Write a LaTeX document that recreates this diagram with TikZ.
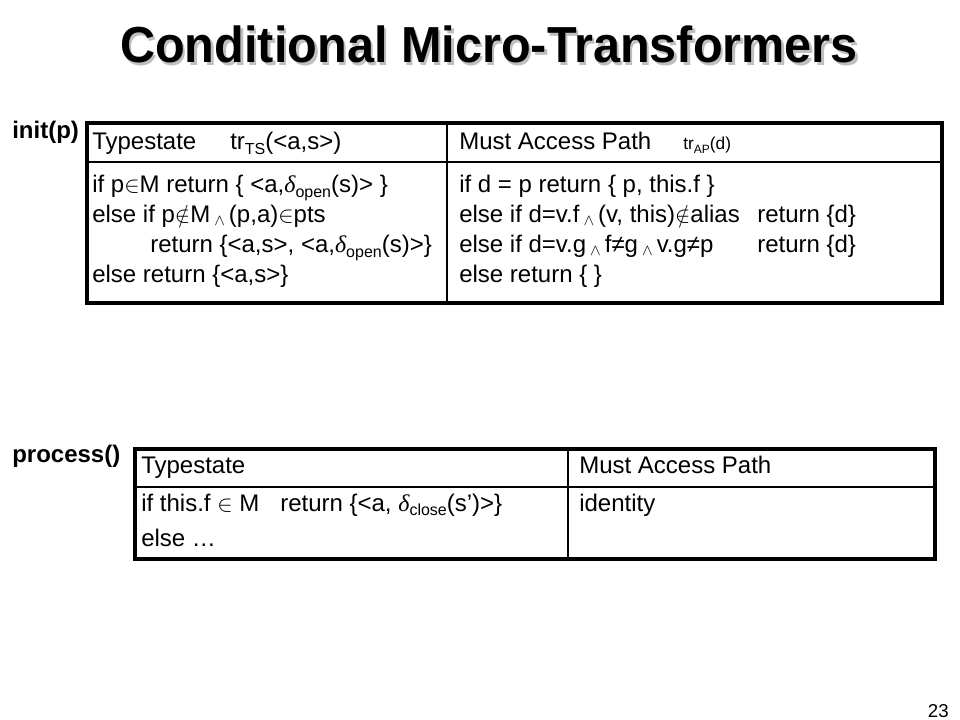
\documentclass[tikz,border=0pt]{standalone}
\usepackage{fontspec}
\setmainfont{Liberation Sans}
\newfontfamily\titlefont[FakeStretch=0.96]{Liberation Sans}
\newfontfamily\symfont{Liberation Serif}
\newcommand\dlt{{\symfont\itshape δ}}
\newcommand\lowtxt[1]{\raisebox{-0.35ex}{\fontsize{12}{12}\selectfont #1}}
\newcommand\mand{\,\raisebox{-0.2ex}{$\scriptstyle\wedge$}\,}

\begin{document}
\begin{tikzpicture}[x=0.75pt,y=-0.75pt,
    txt/.style={anchor=base west,inner sep=0pt,font=\fontsize{18}{21}\selectfont},
    lbl/.style={txt,font=\bfseries\fontsize{18}{21}\selectfont},
    frame/.style={line width=2.6pt},
    rule/.style={line width=0.8pt}
  ]
  \useasboundingbox (0,0) rectangle (960,720);

  % title with its shadow
  \node[anchor=base,inner sep=0pt,text=black!25,font=\titlefont\bfseries\fontsize{38}{40}\selectfont] (shadow) at (491.5,65.5) {Conditional Micro-Transformers};
  \node[anchor=base,inner sep=0pt,font=\titlefont\bfseries\fontsize{38}{40}\selectfont] (title) at (489,63) {Conditional Micro-Transformers};

  % init(p)
  \node[lbl] (initLbl) at (12,139) {init(p)};
  \draw[rule] (447,123) -- (447,303) (87,162) -- (942,162);
  \draw[frame] (87,123) rectangle (942,303);
  \node[txt] (tsHeadA) at (92,150) {Typestate};
  \node[txt] (trTS) at (230,150) {tr\lowtxt{TS}(<a,s>)};
  \node[txt] (apHeadA) at (459,150) {Must Access Path};
  \node[txt,font=\fontsize{13}{15}\selectfont] (trAP) at (683,150) {tr\raisebox{-0.35ex}{\fontsize{9}{9}\selectfont AP}(d)};
  \foreach \row [count=\i] in {%
      {if p$\in$M return \{ <a,\dlt\lowtxt{open}(s)> \}},
      {else if p$\notin$M\mand(p,a)$\in$pts},
      {\hspace*{43.5pt}return \{<a,s>, <a,\dlt\lowtxt{open}(s)>\}},
      {else return \{<a,s>\}}}
    \node[txt] (tsA\i) at (92,163+30*\i) {\row};
  \foreach \row [count=\i] in {%
      {if d = p return \{ p, this.f \}},
      {else if d=v.f\mand(v, this)$\notin$alias},
      {else if d=v.g\mand f≠g\mand v.g≠p},
      {else return \{ \}}}
    \node[txt] (apA\i) at (459,163+30*\i) {\row};
  \node[txt] (retA2) at (757,223) {return \{d\}};
  \node[txt] (retA3) at (757,253) {return \{d\}};

  % process()
  \node[lbl] (procLbl) at (12,462) {process()};
  \draw[rule] (568,449) -- (568,559) (135,487) -- (935,487);
  \draw[frame] (135,449) rectangle (935,559);
  \node[txt] (tsHeadB) at (141,473) {Typestate};
  \node[txt] (apHeadB) at (579,473) {Must Access Path};
  \node[txt] (tsB1) at (141,511) {if this.f $\in$ M};
  \node[txt] (retB1) at (280,511) {return \{<a, \dlt\lowtxt{close}(s’)>\}};
  \node[txt] (tsB2) at (141,546) {else …};
  \node[txt] (apB1) at (579,511) {identity};

  \node[anchor=base east,inner sep=0pt,font=\fontsize{14}{16}\selectfont] (page) at (949,717) {23};
\end{tikzpicture}
\end{document}
